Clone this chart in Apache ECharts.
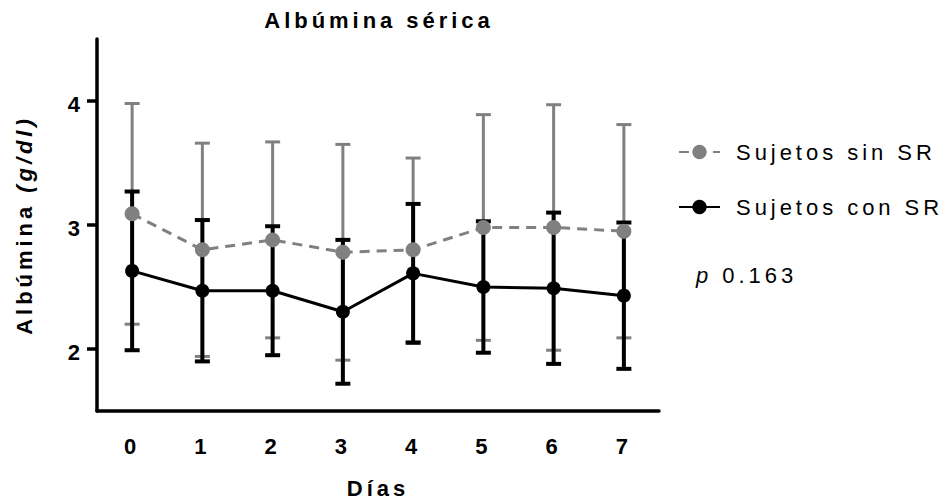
<!DOCTYPE html>
<html>
<head>
<meta charset="utf-8">
<script src="https://cdn.jsdelivr.net/npm/echarts@6/dist/echarts.min.js"></script>
<style>
  html, body { margin: 0; padding: 0; background: #fff; }
  #chart { width: 943px; height: 504px; }
  /* Prism-style tracking on every label */
  #chart svg text, #chart svg tspan { letter-spacing: 0.18em; }
</style>
</head>
<body>
<div id="chart"></div>
<script>
// Serum albumin (g/dl) per day, mean and SD for each group
const days = ['0', '1', '2', '3', '4', '5', '6', '7'];
const sinMean = [3.09, 2.80, 2.88, 2.78, 2.80, 2.98, 2.98, 2.95];
const sinSD   = [0.89, 0.86, 0.79, 0.87, 0.74, 0.91, 0.99, 0.86];
const conMean = [2.63, 2.47, 2.47, 2.30, 2.61, 2.50, 2.49, 2.43];
const conSD   = [0.64, 0.57, 0.52, 0.58, 0.56, 0.53, 0.61, 0.59];
const yTicks  = [2, 3, 4];
const seriesNames = ['Sujetos sin SR', 'Sujetos con SR'];
const pText = '{i|p} 0.163';

const FONT = '"Liberation Sans", Arial, Helvetica, sans-serif';
const FS = 22;
const TRACK = 0.18; // letter spacing in em, same as the stylesheet

// Text measurement that knows about the letter spacing, so layout matches drawing
const measureCtx = document.createElement('canvas').getContext('2d');
echarts.setPlatformAPI({
  measureText(text, font) {
    measureCtx.font = font || '12px sans-serif';
    const m = measureCtx.measureText(text);
    const sizeMatch = /(\d+(?:\.\d+)?)px/.exec(measureCtx.font);
    const size = sizeMatch ? parseFloat(sizeMatch[1]) : 12;
    // zrender probes line height by measuring '国'; leave that one untouched
    const extra = text === '国' ? 0 : TRACK * size * text.length;
    return {
      width: m.width + extra,
      actualBoundingBoxAscent: m.actualBoundingBoxAscent,
      actualBoundingBoxDescent: m.actualBoundingBoxDescent
    };
  }
});

function errorData(mean, sd) {
  return mean.map((m, i) => [i, +(m - sd[i]).toFixed(2), +(m + sd[i]).toFixed(2)]);
}

function errorBars(color, width, cap) {
  return function (params, api) {
    const x = api.value(0);
    const top = api.coord([x, api.value(2)]);
    const bot = api.coord([x, api.value(1)]);
    const half = cap / 2;
    const st = { stroke: color, lineWidth: width, fill: null };
    return {
      type: 'group',
      children: [
        { type: 'line', shape: { x1: top[0], y1: top[1], x2: bot[0], y2: bot[1] }, style: st },
        { type: 'line', shape: { x1: top[0] - half, y1: top[1], x2: top[0] + half, y2: top[1] }, style: st },
        { type: 'line', shape: { x1: bot[0] - half, y1: bot[1], x2: bot[0] + half, y2: bot[1] }, style: st }
      ]
    };
  };
}

const GRAY = '#808080';
const BLACK = '#000000';

const chart = echarts.init(document.getElementById('chart'), null, { renderer: 'svg' });

chart.setOption({
  animation: false,
  backgroundColor: '#ffffff',
  textStyle: { fontFamily: FONT },
  title: {
    text: 'Albúmina sérica',
    left: 374,
    top: 4,
    textAlign: 'center',
    textStyle: { fontFamily: FONT, fontSize: FS, fontWeight: 'bold', color: '#000' }
  },
  grid: { left: 97, top: 39, width: 562, height: 372, containLabel: false },
  legend: {
    orient: 'vertical',
    left: 673,
    top: 136,
    itemWidth: 41,
    itemHeight: 18,
    itemGap: 33,
    selectedMode: false,
    data: seriesNames,
    textStyle: { fontFamily: FONT, fontSize: 22, color: '#000', padding: [0, 0, 0, 11] }
  },
  graphic: [{
    type: 'text',
    left: 696,
    top: 264,
    style: {
      text: pText,
      fontFamily: FONT,
      fontSize: 22,
      fill: '#000',
      rich: { i: { fontFamily: FONT, fontSize: 22, fontStyle: 'italic', fill: '#000' } }
    }
  }],
  xAxis: {
    type: 'category',
    data: days,
    boundaryGap: true,
    name: 'Días',
    nameLocation: 'middle',
    nameGap: 66,
    nameTextStyle: { fontFamily: FONT, fontSize: FS, fontWeight: 'bold', color: '#000' },
    axisLine: { lineStyle: { color: '#000', width: 3.5 } },
    axisTick: { alignWithLabel: true, length: 10, lineStyle: { color: '#000', width: 3.5 } },
    axisLabel: { margin: 24, fontFamily: FONT, fontSize: FS, fontWeight: 'bold', color: '#000' },
    splitLine: { show: false }
  },
  yAxis: {
    type: 'value',
    min: 1.5,
    max: 4.5,
    name: 'Albúmina {i|(g/dl)}',
    nameLocation: 'middle',
    nameGap: 62,
    nameTextStyle: {
      fontFamily: FONT, fontSize: FS, fontWeight: 'bold', color: '#000',
      rich: { i: { fontFamily: FONT, fontSize: FS, fontWeight: 'bold', fontStyle: 'italic', color: '#000' } }
    },
    axisLine: { show: true, lineStyle: { color: '#000', width: 3.5 } },
    axisTick: { show: true, length: 10, customValues: yTicks, lineStyle: { color: '#000', width: 3.5 } },
    axisLabel: {
      margin: 13,
      customValues: yTicks,
      formatter: '{v|{value}}',
      rich: { v: { fontFamily: FONT, fontSize: FS, fontWeight: 'bold', color: '#000', padding: [7, 0, 0, 0] } }
    },
    splitLine: { show: false }
  },
  series: [
    {
      name: 'sinErr',
      type: 'custom',
      renderItem: errorBars(GRAY, 3, 15),
      encode: { x: 0, y: [1, 2] },
      data: errorData(sinMean, sinSD),
      silent: true
    },
    {
      name: seriesNames[0],
      type: 'line',
      data: sinMean,
      symbol: 'circle',
      symbolSize: 15,
      itemStyle: { color: GRAY },
      lineStyle: { color: GRAY, width: 3, type: [10, 7] }
    },
    {
      name: 'conErr',
      type: 'custom',
      renderItem: errorBars(BLACK, 4, 15),
      encode: { x: 0, y: [1, 2] },
      data: errorData(conMean, conSD),
      silent: true
    },
    {
      name: seriesNames[1],
      type: 'line',
      data: conMean,
      symbol: 'circle',
      symbolSize: 14,
      itemStyle: { color: BLACK },
      lineStyle: { color: BLACK, width: 3 }
    }
  ]
});
</script>
</body>
</html>
